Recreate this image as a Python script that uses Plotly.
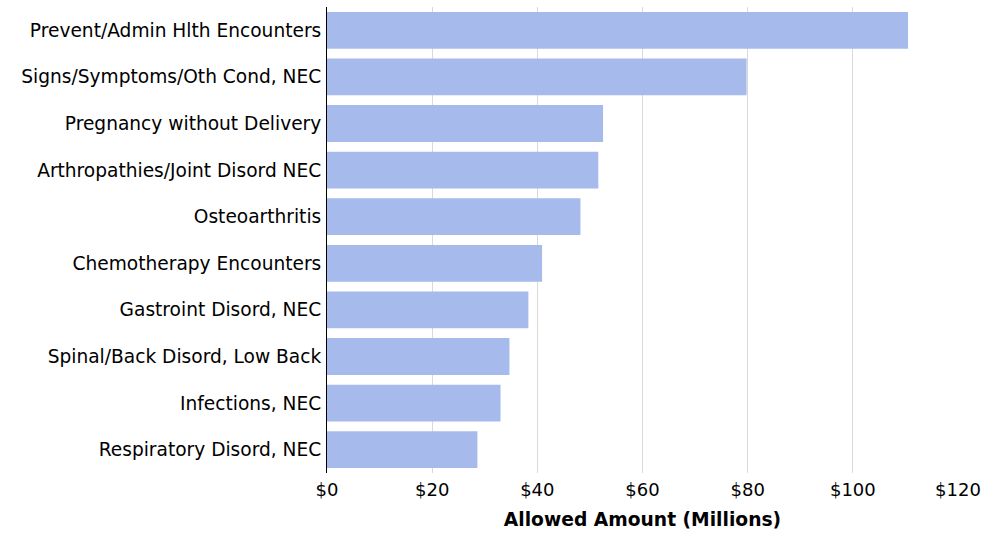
import plotly.graph_objects as go

categories = [
    "Prevent/Admin Hlth Encounters",
    "Signs/Symptoms/Oth Cond, NEC",
    "Pregnancy without Delivery",
    "Arthropathies/Joint Disord NEC",
    "Osteoarthritis",
    "Chemotherapy Encounters",
    "Gastroint Disord, NEC",
    "Spinal/Back Disord, Low Back",
    "Infections, NEC",
    "Respiratory Disord, NEC",
]
allowed_millions = [110.5, 79.8, 52.5, 51.6, 48.2, 40.9, 38.3, 34.7, 33.0, 28.6]
tick_values = [0, 20, 40, 60, 80, 100, 120]
tick_labels = ["$0", "$20", "$40", "$60", "$80", "$100", "$120"]

fig = go.Figure(
    go.Bar(
        x=allowed_millions,
        y=categories,
        orientation="h",
        marker=dict(color="#a6bbec", line=dict(width=0)),
    )
)

fig.update_layout(
    width=988,
    height=533,
    margin=dict(l=327, r=28, t=7, b=59),
    plot_bgcolor="white",
    paper_bgcolor="white",
    font=dict(family="DejaVu Sans, Verdana, sans-serif", size=18, color="#000"),
    bargap=0.21,
    showlegend=False,
)
fig.update_xaxes(
    range=[0, 120],
    tickvals=tick_values,
    ticktext=tick_labels,
    showgrid=True,
    gridcolor="#d9d9d9",
    gridwidth=1,
    zeroline=False,
    showline=False,
    ticks="",
    ticklabelstandoff=4,
    title=dict(text="<b>Allowed Amount (Millions)</b>", font=dict(size=18.7), standoff=13),
)
fig.update_yaxes(
    categoryorder="array",
    categoryarray=categories[::-1],
    showline=True,
    linecolor="#000",
    linewidth=1,
    ticks="",
    ticklabelstandoff=1,
    tickfont=dict(size=18.6),
    showgrid=False,
)

fig.write_html("out.html")
